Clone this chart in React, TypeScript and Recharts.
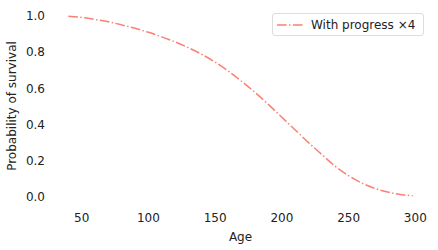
import { LineChart, Line, XAxis, YAxis } from 'recharts'

const ages = [40, 50, 60, 70, 80, 90, 100, 110, 120, 130, 140, 150, 160, 170, 180, 190, 200, 210, 220, 230, 240, 250, 260, 270, 280, 290, 298]
const survival = [0.999, 0.992, 0.981, 0.968, 0.951, 0.932, 0.91, 0.885, 0.857, 0.825, 0.788, 0.745, 0.695, 0.638, 0.577, 0.51, 0.44, 0.37, 0.3, 0.234, 0.169, 0.117, 0.076, 0.046, 0.025, 0.012, 0.006]
const xTicks = [50, 100, 150, 200, 250, 300]
const yTicks = [0, 0.2, 0.4, 0.6, 0.8, 1.0]

const data = ages.map((age, i) => ({ age, p: survival[i] }))

const FONT = 'DejaVu Sans'
const LINE_COLOR = '#fa8072'
const DASH = '9.6 2.4 1.5 2.4'

export default function App() {
  return (
    <div style={{ position: 'absolute', left: 0, top: 0, width: 438, height: 250 }}>
      <LineChart
        width={438}
        height={250}
        data={data}
        margin={{ top: 7, right: 8, bottom: 15, left: 11 }}
      >
        <XAxis
          dataKey='age'
          type='number'
          domain={[27, 311]}
          ticks={xTicks}
          axisLine={false}
          tickLine={false}
          tick={{ fill: '#222', fontSize: 12, fontFamily: FONT }}
          label={{ value: 'Age', position: 'insideBottom', offset: -6, fill: '#222', fontSize: 12, fontFamily: FONT }}
          height={30}
          allowDataOverflow
        />
        <YAxis
          type='number'
          domain={[-0.045, 1.05]}
          ticks={yTicks}
          axisLine={false}
          tickLine={false}
          tickMargin={0}
          tickFormatter={(v: number) => v.toFixed(1)}
          tick={{ fill: '#222', fontSize: 12, fontFamily: FONT }}
          width={40}
          allowDataOverflow
          label={{
            value: 'Probability of survival',
            angle: -90,
            position: 'insideLeft',
            offset: 1,
            style: { textAnchor: 'middle' },
            fill: '#222',
            fontSize: 12,
            fontFamily: FONT,
          }}
        />
        <Line
          type='monotone'
          dataKey='p'
          stroke={LINE_COLOR}
          strokeWidth={1.5}
          strokeDasharray={DASH}
          dot={false}
          isAnimationActive={false}
        />
      </LineChart>
      <div
        style={{
          position: 'absolute',
          left: 272,
          top: 13,
          width: 152,
          height: 23,
          display: 'flex',
          alignItems: 'center',
          boxSizing: 'border-box',
          border: '1px solid #dddddd',
          borderRadius: 3,
          background: 'rgba(255,255,255,0.8)',
          paddingLeft: 4,
          fontFamily: FONT,
          fontSize: 12,
          color: '#222',
        }}
      >
        <svg width={26} height={10} style={{ marginRight: 8 }}>
          <line x1={0} y1={5} x2={26} y2={5} stroke={LINE_COLOR} strokeWidth={1.5} strokeDasharray={DASH} />
        </svg>
        With progress ×4
      </div>
    </div>
  )
}
